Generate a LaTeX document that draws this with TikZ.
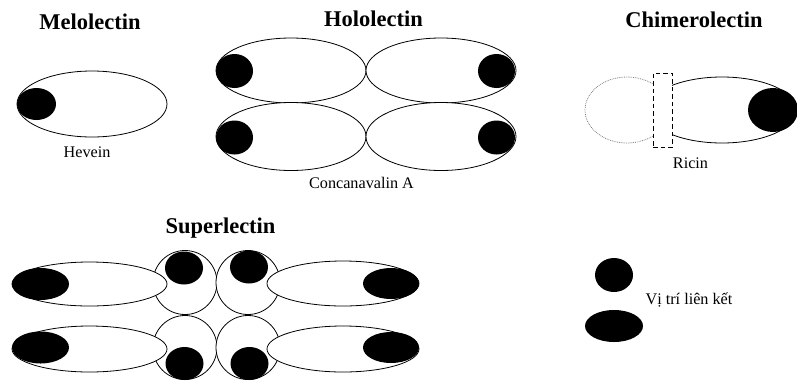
\documentclass[tikz,border=0pt]{standalone}
\usepackage{fontspec}
\setmainfont{Liberation Serif}
\usetikzlibrary{shapes.geometric}
\begin{document}
\begin{tikzpicture}[x=1pt,y=-1pt,
  lobe/.style={draw=black,fill=white,ellipse,line width=0.8pt,inner sep=0pt},
  site/.style={fill=black,ellipse,inner sep=0pt,draw=none},
  ttl/.style={font=\fontsize{22.5}{24}\selectfont\bfseries,anchor=base,inner sep=0pt},
  lbl/.style={font=\fontsize{16.2}{18}\selectfont,anchor=base,inner sep=0pt}]
\useasboundingbox (0,0) rectangle (797,381);
% Melolectin
\node[ttl] (t1) at (90,29) {Melolectin};
\node[lobe,minimum width=150pt,minimum height=66pt] (m1) at (92,104) {};
\node[site,minimum width=39pt,minimum height=32pt] (m1s) at (36.5,104) {};
\node[lbl] (l1) at (87,157) {Hevein};
% Hololectin
\node[ttl] (t2) at (373.5,26) {Hololectin};
\node[lobe,minimum width=150pt,minimum height=65pt] (h1) at (291,70.5) {};
\node[lobe,minimum width=150pt,minimum height=65pt] (h2) at (441,70.5) {};
\node[lobe,minimum width=150pt,minimum height=68pt] (h3) at (291,136.5) {};
\node[lobe,minimum width=150pt,minimum height=68pt] (h4) at (441,136.5) {};
\node[site,minimum width=37pt,minimum height=34pt] (h1s) at (234.5,71) {};
\node[site,minimum width=37pt,minimum height=34pt] (h2s) at (496.5,71) {};
\node[site,minimum width=37pt,minimum height=34pt] (h3s) at (234.5,137.5) {};
\node[site,minimum width=37pt,minimum height=34pt] (h4s) at (496.5,137.5) {};
\node[lbl] (l2) at (361.5,188) {Concanavalin A};
% Chimerolectin
\node[ttl] (t3) at (694,27) {Chimerolectin};
\begin{scope}
  \clip (570,60) rectangle (653,160);
  \node[draw=gray,densely dotted,line width=0.8pt,ellipse,minimum width=84pt,minimum height=66pt,inner sep=0pt] (c0) at (627,110) {};
\end{scope}
\begin{scope}
  \clip (672,60) rectangle (797,160);
  \node[lobe,minimum width=150pt,minimum height=66pt] (c1) at (722,110) {};
  \node[site,minimum width=50pt,minimum height=44pt] (c1s) at (773,110) {};
\end{scope}
\node[draw=black,dash pattern=on 4.5pt off 3pt,line width=0.8pt,minimum width=19pt,minimum height=74pt,inner sep=0pt] (cr) at (662.5,110) {};
\node[lbl] (l3) at (690.5,168) {Ricin};
% Superlectin
\node[ttl] (t4) at (220.5,233) {Superlectin};
\node[lobe,circle,minimum size=64pt] (s1) at (185,282.5) {};
\node[lobe,circle,minimum size=64pt] (s2) at (248,282.5) {};
\node[lobe,circle,minimum size=64pt] (s3) at (185,347.5) {};
\node[lobe,circle,minimum size=64pt] (s4) at (248,347.5) {};
\node[site,minimum width=38pt,minimum height=33pt] (s1s) at (184,268) {};
\node[site,minimum width=38pt,minimum height=33pt] (s2s) at (249,267) {};
\node[site,minimum width=38pt,minimum height=33pt] (s3s) at (184.5,363.5) {};
\node[site,minimum width=38pt,minimum height=33pt] (s4s) at (249.5,363.5) {};
\node[lobe,minimum width=155pt,minimum height=44pt] (e1) at (89.5,284) {};
\node[lobe,minimum width=152pt,minimum height=45pt] (e2) at (343,283.5) {};
\node[lobe,minimum width=155pt,minimum height=46pt] (e3) at (89.5,349) {};
\node[lobe,minimum width=152pt,minimum height=46pt] (e4) at (343,349) {};
\node[site,minimum width=57pt,minimum height=32pt] (e1s) at (40.5,284) {};
\node[site,minimum width=56pt,minimum height=31pt] (e2s) at (391,283.5) {};
\node[site,minimum width=57pt,minimum height=32pt] (e3s) at (40.5,347.5) {};
\node[site,minimum width=56pt,minimum height=31pt] (e4s) at (391,347.5) {};
% Legend
\node[site,minimum width=38pt,minimum height=34pt] (k1) at (614,275) {};
\node[site,minimum width=58pt,minimum height=32pt] (k2) at (614,326) {};
\node[lbl] (l5) at (689,304) {Vị trí liên kết};
\end{tikzpicture}
\end{document}
